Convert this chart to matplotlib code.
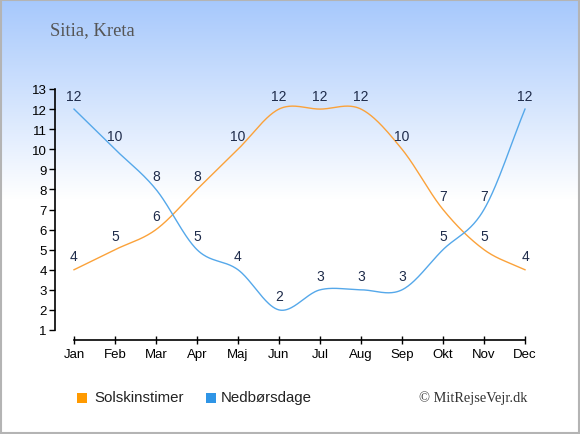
import numpy as np
import matplotlib
matplotlib.use("Agg")
import matplotlib.pyplot as plt
from matplotlib.patches import Rectangle

months = ["Jan", "Feb", "Mar", "Apr", "Maj", "Jun", "Jul", "Aug", "Sep", "Okt", "Nov", "Dec"]
sun_hours = [4, 5, 6, 8, 10, 12, 12, 12, 10, 7, 5, 4]
rain_days = [12, 10, 8, 5, 4, 2, 3, 3, 3, 5, 7, 12]
y_ticks = list(range(1, 14))
title = "Sitia, Kreta"
legend_labels = ["Solskinstimer", "Nedbørsdage"]
credit = "© MitRejseVejr.dk"

ORANGE_LINE = "#fba23a"
BLUE_LINE = "#55a8ea"
ORANGE_BOX = "#ff9a00"
BLUE_BOX = "#2f95e6"
LABEL_COLOR = "#1e2b4a"

W, H = 580, 435


def catmull_rom(y, n=40):
    y = np.asarray(y, dtype=float)
    m = len(y)
    xs, ys = [], []
    for i in range(m - 1):
        p0 = y[i]
        p1 = y[i + 1]
        t0 = (y[i + 1] - y[i - 1]) / 2 if i > 0 else (y[i + 1] - y[i])
        t1 = (y[i + 2] - y[i]) / 2 if i + 2 < m else (y[i + 1] - y[i])
        t = np.linspace(0, 1, n, endpoint=(i == m - 2))
        h00 = 2 * t**3 - 3 * t**2 + 1
        h10 = t**3 - 2 * t**2 + t
        h01 = -2 * t**3 + 3 * t**2
        h11 = t**3 - t**2
        xs.append(i + t)
        ys.append(h00 * p0 + h10 * t0 + h01 * p1 + h11 * t1)
    return np.concatenate(xs), np.concatenate(ys)


fig = plt.figure(figsize=(W / 100, H / 100), dpi=100)

# background gradient
bg = fig.add_axes([0, 0, 1, 1], zorder=0)
grad_y = np.linspace(0, 1, 435)
top = np.array([166, 200, 252]) / 255.0
white = np.array([1.0, 1.0, 1.0])
frac = np.clip(grad_y / (200 / 435), 0, 1)[:, None]
col = top * (1 - frac) + white * frac
img = np.repeat(col[:, None, :], 2, axis=1)
bg.imshow(img, aspect="auto", extent=[0, 1, 0, 1], origin="upper")
bg.set_xlim(0, 1)
bg.set_ylim(0, 1)
bg.axis("off")
bg.add_patch(Rectangle((0.001, 0.002), 0.997, 0.996, transform=bg.transAxes,
                       fill=False, edgecolor="#b4b4b4", linewidth=1.5))

# main axes in pixel-matched position
left_px, right_px, top_px, bottom_px = 55, 545, 85, 341
ax = fig.add_axes([left_px / W, 1 - bottom_px / H, (right_px - left_px) / W, (bottom_px - top_px) / H],
                  zorder=2)
ax.patch.set_alpha(0)
px_per_month = (525 - 74) / 11
px_per_unit = (331 - 90) / 12
ax.set_xlim(-(74 - left_px) / px_per_month, 11 + (right_px - 525) / px_per_month)
ax.set_ylim(1 - (bottom_px - 331) / px_per_unit, 13 + (90 - top_px) / px_per_unit)

for s in ["top", "right"]:
    ax.spines[s].set_visible(False)
ax.spines["left"].set_bounds(1, 13)
ax.spines["bottom"].set_bounds(0, 11)
ax.spines["left"].set_linewidth(1.2)
ax.spines["bottom"].set_linewidth(1.2)

ax.set_yticks(y_ticks)
ax.set_yticklabels([str(v) for v in y_ticks], fontsize=9.5, family="Liberation Sans")
ax.set_xticks(range(12))
ax.set_xticklabels(months, fontsize=9.5, family="Liberation Sans")
ax.tick_params(axis="y", direction="out", length=4, width=1, pad=2)
ax.tick_params(axis="x", direction="inout", length=6, width=1, pad=3)

xs, ys = catmull_rom(sun_hours)
ax.plot(xs, ys, color=ORANGE_LINE, lw=1.0)
xr, yr = catmull_rom(rain_days)
ax.plot(xr, yr, color=BLUE_LINE, lw=1.0)

for i, v in enumerate(sun_hours):
    ax.annotate(str(v), (i, v), xytext=(0, 9.7), textcoords="offset points",
                ha="center", va="center", fontsize=10, color=LABEL_COLOR,
                family="Liberation Sans")
for i, v in enumerate(rain_days):
    ax.annotate(str(v), (i, v), xytext=(0, 9.7), textcoords="offset points",
                ha="center", va="center", fontsize=10, color=LABEL_COLOR,
                family="Liberation Sans")

# title
fig.text(50 / W, 1 - 31 / H, title, fontsize=13.4, family="Liberation Serif",
         color="#555555", ha="left", va="center")

# legend
for (x0, c, lab, tx) in [(77, ORANGE_BOX, legend_labels[0], 94), (206, BLUE_BOX, legend_labels[1], 221)]:
    fig.patches.append(Rectangle((x0 / W, 1 - 404 / H), 10 / W, 10 / H, transform=fig.transFigure,
                                 facecolor=c, edgecolor="none"))
    fig.text(tx / W, 1 - 398 / H, lab, fontsize=10.8, family="Liberation Sans",
             color="#222222", ha="left", va="center")

fig.text(527 / W, 1 - 398 / H, credit, fontsize=10.4, family="Liberation Serif",
         color="#333333", ha="right", va="center")

fig.savefig("out.png", dpi=100)
